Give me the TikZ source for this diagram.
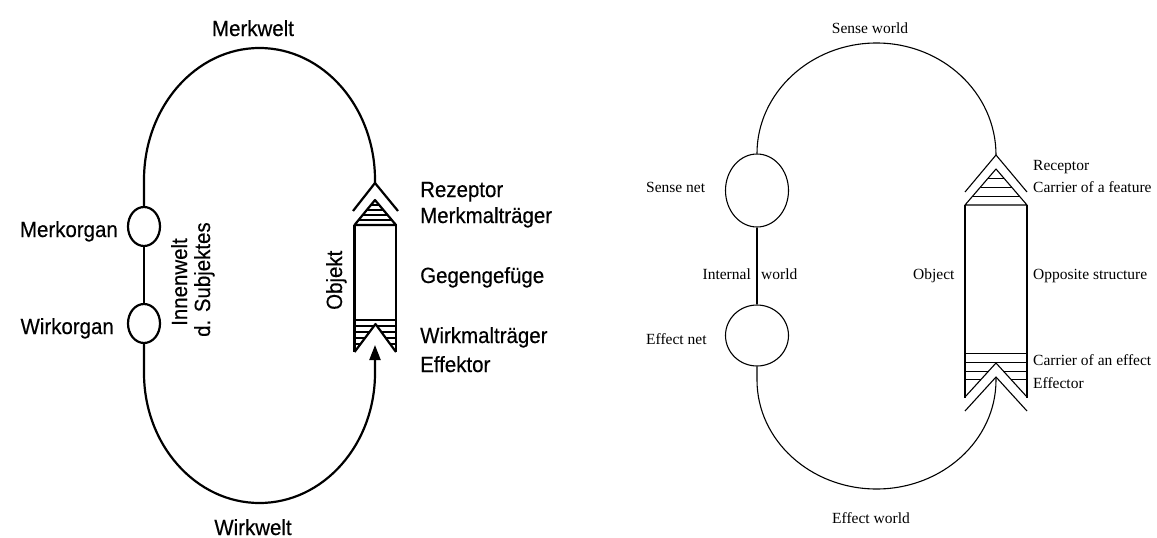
\documentclass[tikz,border=0pt]{standalone}
\usepackage{fontspec}
\setmainfont{Liberation Serif}
\newfontfamily\dinfont[FakeBold=0.4,FakeStretch=0.93]{Liberation Sans}
\usetikzlibrary{arrows.meta,shapes.geometric}
\tikzset{
  thk/.style={line width=2.2pt, line join=round},
  thkhatch/.style={line width=1.3pt},
  thn/.style={line width=1.1pt, line join=round},
  thnhatch/.style={line width=1pt},
  dlab/.style={font=\dinfont\fontsize{22}{24}\selectfont, inner sep=0pt},
  tlab/.style={font=\fontsize{15.5}{18}\selectfont, inner sep=0pt},
  organ/.style={ellipse, draw, thk, minimum width=32pt, minimum height=39pt, inner sep=0pt},
  netc/.style={ellipse, draw, thn, inner sep=0pt}
}
\begin{document}
\begin{tikzpicture}[x=1pt,y=-1pt]
\useasboundingbox (0,0) rectangle (1157,538);
\fill[white] (0,0) rectangle (1157,538);

% ---------------- left diagram (German) ----------------
\node[dlab, anchor=base] (merkwelt) at (253,36) {Merkwelt};
\node[dlab, anchor=base] (wirkwelt) at (253,535) {Wirkwelt};
\node[dlab, anchor=base east] (merkorgan) at (118,237) {Merkorgan};
\node[dlab, anchor=base east] (wirkorgan) at (114,334) {Wirkorgan};
\node[organ] (mo) at (144,226.5) {};
\node[organ] (wo) at (144,323.5) {};
\node[dlab, rotate=90, anchor=base west] (innen) at (187,326) {Innenwelt};
\node[dlab, rotate=90, anchor=base west] (subj) at (210,337) {d. Subjektes};
\node[dlab, rotate=90, anchor=base west] (objekt) at (342,310) {Objekt};
\node[dlab, anchor=base west] (rez) at (420,197) {Rezeptor};
\node[dlab, anchor=base west] (mmt) at (420,223) {Merkmalträger};
\node[dlab, anchor=base west] (ggf) at (420,283) {Gegengefüge};
\node[dlab, anchor=base west] (wmt) at (420,343) {Wirkmalträger};
\node[dlab, anchor=base west] (eff) at (420,372) {Effektor};

\coordinate (lrec) at (375,183);
\coordinate (ltip) at (375,345);

\draw[thk] (mo.north) -- (144,180) .. controls (144,107.1) and (195.7,48) .. (259.5,48)
  .. controls (323.3,48) and (375,107.1) .. (375,180) -- (lrec);
\draw[thk] (mo.south) -- (wo.north);
\draw[thk, -{Triangle[length=15pt,width=11pt]}] (wo.south) -- (144,373)
  .. controls (144,444.8) and (195.7,503) .. (259.5,503)
  .. controls (323.3,503) and (375,444.8) .. (375,373) -- (ltip);

% receptor
\draw[thk] (353,211) -- (lrec) -- (398,211);
\draw[thk] (354.5,225) -- (375,200) -- (396,225) -- cycle;
\foreach \y in {205,210,215,220} {
  \pgfmathsetmacro{\hw}{(\y-200)*21/25}
  \draw[thkhatch] (375-\hw,\y) -- (375+\hw,\y);
}
% body
\draw[thk] (354.5,225) -- (354.5,352);
\draw[thk] (396,225) -- (396,352);
% effector
\draw[thk] (354.5,352) -- (375.5,324) -- (396,352);
\draw[thkhatch] (354.5,320) -- (396,320);
\foreach \y in {326,332,338,344,349.5} {
  \pgfmathsetmacro{\off}{(\y-324)*0.732}
  \draw[thkhatch] (354.5,\y) -- (375.5-\off,\y);
  \draw[thkhatch] (375.5+\off,\y) -- (396,\y);
}

% ---------------- right diagram (English) ----------------
\node[tlab, anchor=base] (sw) at (870,33) {Sense world};
\node[tlab, anchor=base] (ew) at (871,523) {Effect world};
\node[tlab, anchor=base west] (snl) at (646,192) {Sense net};
\node[tlab, anchor=base west] (enl) at (646,344) {Effect net};
\node[tlab, anchor=base east] (intl) at (751,279) {Internal};
\node[tlab, anchor=base west] (intw) at (761,279) {world};
\node[tlab, anchor=base west] (obj) at (913,279) {Object};
\node[tlab, anchor=base west] (opp) at (1033,279) {Opposite structure};
\node[tlab, anchor=base west] (rec) at (1033,170) {Receptor};
\node[tlab, anchor=base west] (cof) at (1033,192) {Carrier of a feature};
\node[tlab, anchor=base west] (coe) at (1033,365) {Carrier of an effect};
\node[tlab, anchor=base west] (efr) at (1033,388) {Effector};

\node[netc, minimum width=63pt, minimum height=73pt] (sn) at (757,190.5) {};
\node[netc, minimum width=63pt, minimum height=61pt] (en) at (757,335.5) {};

\coordinate (rrec) at (996,155);
\coordinate (rtip) at (996,377);

\draw[thn] (sn.north) .. controls (757,93.1) and (810.5,43) .. (876.5,43)
  .. controls (942.5,43) and (996,93.1) .. (rrec);
\draw[thn] (sn.south) -- (en.north);
\draw[thn] (en.south) -- (757,380) .. controls (757,440.2) and (810.5,489) .. (876.5,489)
  .. controls (942.5,489) and (996,440.2) .. (996,380) -- (rtip);

% receptor
\draw[thn] (965,192) -- (rrec) -- (1027,192);
\draw[thn] (965,205) -- (996,169) -- (1027,205) -- cycle;
\foreach \y in {178,187,196} {
  \pgfmathsetmacro{\hw}{(\y-169)*31/36}
  \draw[thnhatch] (996-\hw,\y) -- (996+\hw,\y);
}
% body
\draw[thn] (965,205) -- (965,398);
\draw[thn] (1027,205) -- (1027,398);
% effector
\draw[thnhatch] (965,353) -- (1027,353);
\draw[thnhatch] (965,362) -- (1027,362);
\foreach \y in {371,379} {
  \pgfmathsetmacro{\off}{(\y-363)*31/34}
  \draw[thnhatch] (965,\y) -- (996-\off,\y);
  \draw[thnhatch] (996+\off,\y) -- (1027,\y);
}
\draw[thn] (965,397) -- (996,363) -- (1027,397);
\draw[thn] (965,411) -- (rtip) -- (1027,411);
\end{tikzpicture}
\end{document}
